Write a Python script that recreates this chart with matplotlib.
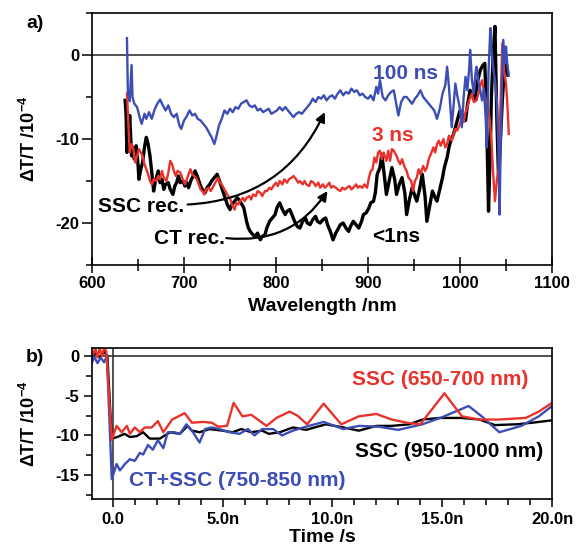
import matplotlib
matplotlib.use('Agg')
import matplotlib.pyplot as plt
from matplotlib.ticker import MultipleLocator

plt.rcParams['font.family'] = ['Liberation Sans', 'DejaVu Sans']
plt.rcParams['mathtext.fontset'] = 'custom'
plt.rcParams['mathtext.rm'] = 'Liberation Sans:bold'
plt.rcParams['mathtext.it'] = 'Liberation Sans:bold'
plt.rcParams['mathtext.bf'] = 'Liberation Sans:bold'
plt.rcParams['axes.unicode_minus'] = False

# ---- panel a) spectra, dT/T in 1e-4 ----
wl_blue = [638, 639, 641, 643, 644, 646, 649, 652, 654, 657,
           659, 662, 665, 668, 671, 674, 677, 680, 683, 686,
           689, 692, 695, 697, 700, 703, 706, 709, 712, 715,
           718, 721, 724, 727, 730, 733, 735, 738, 741, 744,
           747, 750, 753, 756, 759, 762, 765, 768, 771, 774,
           777, 780, 783, 786, 789, 792, 795, 798, 801, 804,
           807, 810, 813, 816, 819, 822, 825, 828, 831, 834,
           837, 840, 843, 846, 849, 852, 855, 858, 861, 864,
           867, 870, 873, 876, 879, 882, 885, 888, 891, 894,
           897, 900, 903, 906, 909, 911, 913, 916, 919, 922,
           925, 928, 931, 933, 936, 939, 942, 945, 948, 951,
           954, 957, 960, 963, 966, 969, 972, 975, 978, 981,
           984, 986, 988, 991, 993, 995, 997, 1000, 1002, 1004,
           1006, 1008, 1010, 1011, 1013, 1015, 1017, 1018, 1020, 1022,
           1024, 1026, 1028, 1029, 1031, 1033, 1034, 1036, 1038, 1040,
           1042, 1043, 1044, 1046, 1047, 1049, 1050, 1051, 1052, 1053]
dt_blue = [2.0, -4.5, -5.5, -1.2, -5.0, -5.8, -6.2, -7.5, -8.2, -7.0,
           -7.6, -6.8, -7.6, -6.5, -5.8, -5.3, -6.0, -6.6, -6.0, -7.0,
           -7.4, -7.0, -8.4, -8.8, -7.8, -7.3, -6.6, -7.2, -7.0, -7.6,
           -7.8, -8.2, -8.6, -9.2, -9.8, -10.6, -9.8, -8.4, -7.6, -6.6,
           -7.0, -6.4, -6.8, -6.2, -6.4, -5.8, -5.6, -5.4, -6.0, -6.2,
           -6.0, -6.6, -6.4, -6.8, -6.6, -6.4, -7.0, -6.8, -6.6, -6.2,
           -6.6, -6.2, -6.6, -7.0, -7.4, -7.0, -6.8, -7.0, -6.6, -6.2,
           -5.8, -5.2, -5.6, -5.0, -5.2, -4.8, -5.4, -5.0, -4.8, -5.2,
           -4.6, -4.2, -4.8, -4.4, -4.6, -4.0, -4.4, -4.2, -4.8, -4.6,
           -5.0, -5.2, -4.8, -5.4, -3.8, -4.6, -3.0, -5.0, -5.4, -4.8,
           -4.4, -4.2, -6.0, -7.2, -5.6, -5.0, -5.0, -5.4, -5.8, -5.2,
           -4.8, -4.2, -5.0, -5.4, -5.8, -6.2, -6.6, -7.6, -6.4, -4.6,
           -3.6, -1.4, -3.8, -8.6, -6.0, -3.4, -4.8, -6.4, -8.6, -5.0,
           -2.6, -4.2, -1.6, 0.6, -3.0, -4.6, -2.0, -1.4, -3.2, -4.2,
           -5.4, -4.0, -7.6, -11.0, -2.0, 3.2, 1.0, -1.4, -3.0, -5.4,
           -12.0, -19.0, -12.0, -2.0, 1.8, -1.0, 1.0, -0.6, -1.6, -2.4]

wl_red = [638, 639, 641, 643, 645, 647, 649, 651, 653, 655,
          657, 659, 661, 663, 665, 667, 670, 672, 674, 676,
          678, 681, 683, 685, 687, 689, 691, 693, 696, 698,
          701, 703, 705, 707, 709, 711, 714, 716, 718, 720,
          722, 724, 727, 729, 732, 734, 737, 739, 741, 743,
          745, 748, 750, 752, 755, 757, 759, 761, 764, 766,
          768, 771, 773, 775, 778, 780, 783, 785, 788, 790,
          793, 795, 797, 800, 802, 804, 807, 809, 812, 814,
          817, 819, 822, 824, 826, 829, 831, 833, 836, 838,
          841, 843, 846, 848, 851, 853, 855, 858, 860, 862,
          865, 867, 870, 872, 875, 877, 880, 882, 884, 887,
          889, 891, 894, 896, 899, 901, 903, 905, 907, 909,
          911, 913, 915, 917, 920, 922, 924, 926, 928, 931,
          933, 935, 937, 940, 942, 944, 947, 949, 951, 953,
          955, 957, 960, 962, 964, 966, 969, 971, 973, 975,
          977, 979, 982, 984, 986, 988, 991, 993, 995, 997,
          1000, 1002, 1004, 1006, 1008, 1010, 1013, 1015, 1018, 1020,
          1022, 1024, 1026, 1028, 1030, 1032, 1034, 1036, 1038, 1040,
          1042, 1044, 1046, 1048, 1050, 1051, 1052, 1053]
dt_red = [-4.6, -7.0, -11.6, -10.6, -11.2, -12.8, -12.0, -11.2, -11.6, -12.0,
          -13.0, -13.6, -14.2, -15.0, -15.4, -14.8, -15.0, -14.4, -14.8, -13.8,
          -14.6, -15.0, -14.0, -12.6, -13.0, -13.8, -14.4, -13.8, -14.0, -14.6,
          -15.4, -14.8, -14.2, -13.6, -14.2, -14.4, -14.8, -15.4, -16.0, -16.2,
          -16.6, -16.0, -15.8, -16.2, -15.6, -15.2, -14.6, -15.2, -15.4, -15.8,
          -16.2, -16.8, -17.0, -17.8, -18.4, -17.6, -17.8, -17.4, -17.0, -17.4,
          -17.0, -16.8, -17.2, -16.6, -16.8, -16.2, -16.4, -16.8, -16.2, -16.2,
          -15.8, -16.0, -15.6, -15.2, -15.6, -15.0, -15.4, -14.8, -15.2, -14.8,
          -14.6, -14.4, -14.8, -15.2, -15.0, -15.4, -15.0, -15.4, -15.6, -15.0,
          -15.2, -15.6, -15.2, -15.8, -15.4, -15.8, -15.6, -15.2, -15.8, -15.6,
          -15.8, -16.0, -16.2, -15.8, -16.0, -15.8, -15.6, -16.0, -15.8, -15.4,
          -15.8, -15.6, -15.8, -15.4, -15.8, -14.6, -13.8, -13.6, -12.2, -12.8,
          -11.6, -11.4, -12.4, -11.6, -12.6, -11.4, -12.6, -11.2, -11.4, -12.0,
          -12.6, -13.0, -12.4, -13.4, -13.8, -14.6, -15.0, -16.2, -15.0, -14.6,
          -13.6, -14.2, -13.2, -13.8, -13.4, -12.4, -11.6, -11.0, -11.6, -10.6,
          -10.2, -10.8, -10.0, -11.0, -10.6, -9.6, -10.2, -9.4, -8.8, -9.0,
          -8.2, -7.4, -8.0, -6.8, -6.2, -5.4, -4.6, -5.6, -5.4, -4.6,
          -3.6, -3.0, -4.4, -5.4, -6.0, -7.4, -10.0, -14.0, -17.4, -15.0,
          -13.4, -6.0, 1.4, -2.0, -3.4, -5.0, -7.0, -9.4]

wl_black = [636, 637, 638, 640, 641, 643, 645, 646, 648, 650,
            651, 653, 655, 657, 659, 661, 663, 665, 667, 669,
            672, 674, 676, 678, 680, 683, 685, 688, 690, 692,
            694, 696, 699, 701, 703, 705, 708, 710, 712, 715,
            718, 720, 723, 725, 728, 730, 733, 736, 738, 741,
            744, 747, 750, 752, 755, 758, 761, 763, 765, 768,
            770, 772, 775, 777, 780, 783, 785, 788, 790, 793,
            796, 799, 801, 804, 807, 810, 812, 815, 818, 821,
            823, 826, 829, 832, 834, 837, 840, 843, 845, 848,
            851, 854, 856, 859, 862, 865, 868, 870, 873, 876,
            879, 881, 884, 887, 890, 893, 895, 898, 901, 903,
            906, 908, 910, 913, 915, 918, 920, 923, 926, 929,
            931, 934, 937, 940, 942, 945, 948, 951, 953, 956,
            959, 962, 964, 967, 970, 973, 975, 978, 981, 983,
            986, 988, 990, 993, 995, 998, 1000, 1003, 1006, 1008,
            1011, 1013, 1016, 1019, 1022, 1025, 1027, 1029, 1031, 1033,
            1034, 1036, 1038, 1040, 1042, 1044, 1046, 1048, 1050, 1052]
dt_black = [-5.4, -7.0, -11.6, -9.0, -7.2, -12.0, -11.0, -12.4, -10.8, -13.0,
            -14.8, -13.6, -12.8, -11.0, -9.8, -10.6, -12.0, -14.0, -16.2, -15.0,
            -13.8, -15.2, -14.8, -16.0, -15.4, -15.2, -16.0, -16.6, -15.6, -15.2,
            -14.4, -15.2, -15.0, -15.6, -15.2, -15.8, -14.8, -14.4, -13.8, -14.6,
            -15.6, -16.0, -16.4, -15.8, -15.4, -15.0, -14.6, -14.2, -14.8, -15.8,
            -16.8, -17.8, -18.4, -17.8, -17.4, -17.0, -17.4, -17.8, -18.2, -19.8,
            -20.6, -21.0, -21.4, -21.6, -21.2, -22.0, -21.6, -21.4, -20.6, -19.8,
            -19.4, -19.0, -18.2, -17.6, -18.4, -19.0, -18.6, -18.4, -19.2, -20.0,
            -20.4, -20.6, -19.8, -19.4, -20.0, -20.2, -19.6, -19.2, -19.8, -20.0,
            -19.6, -19.4, -20.2, -21.0, -22.0, -21.2, -20.6, -20.2, -20.0, -20.6,
            -21.0, -20.4, -19.8, -20.2, -20.6, -19.8, -19.0, -18.8, -18.2, -17.6,
            -17.4, -16.4, -14.2, -13.4, -11.8, -14.6, -16.6, -15.0, -13.4, -14.8,
            -16.6, -15.4, -14.6, -16.4, -19.0, -17.2, -15.8, -16.8, -17.4, -16.0,
            -14.2, -16.8, -19.8, -18.0, -16.2, -17.0, -17.4, -16.0, -14.6, -13.4,
            -12.2, -11.0, -10.2, -9.4, -8.6, -7.4, -6.6, -7.2, -7.8, -6.0,
            -4.2, -4.8, -5.4, -3.2, -1.8, -1.2, -1.0, -8.0, -18.6, -11.0,
            -5.4, 0.0, 3.4, -7.4, -15.0, -10.0, -5.4, -2.0, -0.8, -2.4]

# ---- panel b) kinetics, time in ns ----
t_red = [-0.9, -0.8, -0.7, -0.6, -0.5, -0.4, -0.3, -0.05, 0.17, 0.4,
         0.64, 0.78, 1.0, 1.23, 1.45, 1.77, 2.05, 2.3, 2.7, 3.27,
         3.6, 4.1, 4.5, 4.8, 5.2, 5.5, 5.9, 6.3, 6.6, 7.0,
         7.45, 8.05, 8.4, 8.85, 9.6, 10.4, 11.2, 12.0, 12.7, 13.4,
         14.0, 15.1, 15.9, 16.7, 17.6, 18.8, 19.4, 20.0]
k_red = [0.2, 1.0, -0.2, 1.0, 0.0, 1.0, 0.6, -10.6, -8.8, -9.6,
         -8.8, -9.8, -9.0, -9.6, -9.0, -9.0, -8.2, -9.6, -8.0, -7.2,
         -8.4, -8.3, -8.4, -8.9, -8.8, -5.9, -7.6, -7.4, -8.0, -8.8,
         -7.8, -7.0, -7.5, -8.6, -6.0, -8.6, -7.6, -7.3, -8.0, -8.4,
         -8.6, -4.7, -7.6, -8.0, -8.0, -7.8, -7.0, -5.9]

t_black = [-0.95, -0.8, -0.6, -0.4, -0.25, -0.05, 0.2, 0.53, 0.77, 1.08,
           1.38, 1.68, 2.14, 2.6, 3.05, 3.4, 3.6, 3.95, 4.4, 5.0,
           5.45, 5.85, 6.3, 6.8, 7.1, 7.6, 8.2, 8.8, 9.7, 10.5,
           11.2, 12.0, 12.7, 13.5, 14.1, 14.9, 15.9, 16.7, 17.4, 18.4,
           19.1, 20.0]
k_black = [-0.3, 0.4, -0.2, 0.5, 0.0, -10.4, -10.2, -9.8, -10.2, -10.1,
           -9.6, -10.4, -10.4, -9.6, -9.8, -8.8, -9.4, -9.6, -9.2, -9.4,
           -9.6, -9.2, -9.6, -9.4, -9.8, -9.6, -9.0, -9.3, -8.6, -9.0,
           -9.4, -8.8, -8.8, -8.6, -8.0, -7.8, -7.8, -8.0, -8.7, -8.6,
           -8.4, -8.1]

t_blue = [-0.95, -0.85, -0.7, -0.55, -0.4, -0.27, -0.05, 0.17, 0.32, 0.55,
          0.77, 1.0, 1.23, 1.38, 1.6, 1.82, 2.05, 2.3, 2.5, 2.8,
          3.05, 3.35, 3.65, 3.95, 4.2, 4.5, 4.86, 5.3, 5.77, 6.15,
          6.45, 6.8, 7.3, 7.7, 8.2, 8.8, 9.6, 10.5, 11.2, 12.1,
          13.0, 14.1, 15.0, 16.2, 16.8, 17.6, 18.6, 19.4, 20.0]
k_blue = [-0.8, -0.1, -0.9, -0.2, -0.8, 0.0, -15.5, -13.6, -14.4, -13.6,
          -13.0, -13.2, -12.2, -12.4, -11.2, -11.8, -10.6, -11.6, -9.6, -9.6,
          -9.8, -8.6, -9.6, -10.9, -9.2, -9.0, -9.2, -9.6, -9.8, -9.2,
          -10.0, -9.2, -9.2, -10.0, -9.4, -8.9, -8.3, -9.2, -8.8, -8.9,
          -9.3, -8.6, -7.7, -6.3, -7.6, -9.6, -8.8, -7.6, -6.3]

time_ticks = [0, 5, 10, 15, 20]
time_labels = ['0.0', '5.0n', '10.0n', '15.0n', '20.0n']

BLUE = '#3c4db5'
RED = '#e8322b'
ylab = r'ΔT/T /10$^{-4}$'

fig = plt.figure(figsize=(5.77, 5.52), dpi=100)
ax = fig.add_axes([92/577, 1 - 265/552, 460/577, 252/552])
ax2 = fig.add_axes([92/577, 1 - 499/552, 460/577, 151/552])

# top panel
ax.axhline(0, color='#222222', lw=1.1, zorder=1)
ax.plot(wl_black, dt_black, color='k', lw=2.4)
ax.plot(wl_red, dt_red, color=RED, lw=1.7)
ax.plot(wl_blue, dt_blue, color=BLUE, lw=1.7)
ax.set_xlim(600, 1100)
ax.set_ylim(-25, 5)
ax.set_xticks([600, 700, 800, 900, 1000, 1100])
ax.set_yticks([-20, -10, 0])
ax.xaxis.set_minor_locator(MultipleLocator(50))
ax.yaxis.set_minor_locator(MultipleLocator(5))
ax.tick_params(axis='x', which='major', direction='inout', length=12, width=1.1, labelsize=12, pad=2)
ax.tick_params(axis='x', which='minor', direction='inout', length=8, width=1.1)
ax.tick_params(axis='y', which='major', direction='out', length=7, width=1.1, labelsize=12, pad=2)
ax.tick_params(axis='y', which='minor', direction='out', length=4.5, width=1.1)
ax.set_xlabel('Wavelength /nm', fontsize=14, fontweight='bold')
ax.xaxis.set_label_coords(0.5, -0.13)
ax.set_ylabel(ylab, fontsize=13, fontweight='bold')
ax.yaxis.set_label_coords(-0.115, 0.5)

txt = dict(fontsize=15, fontweight='bold', ha='center', va='center')
ax.text(941, -2.2, '100 ns', color=BLUE, **txt)
ax.text(927, -9.6, '3 ns', color=RED, **txt)
ax.text(931, -21.6, '<1ns', color='k', **txt)
ax.text(653, -18.0, 'SSC rec.', color='k', **txt)
ax.text(706, -21.8, 'CT rec.', color='k', **txt)
ax.annotate('', xy=(853, -6.8), xytext=(704, -17.8),
            arrowprops=dict(arrowstyle='-|>', color='k', lw=1.6, mutation_scale=14,
                            connectionstyle='arc3,rad=0.3', shrinkA=0, shrinkB=0))
ax.annotate('', xy=(856, -16.2), xytext=(746, -21.8),
            arrowprops=dict(arrowstyle='-|>', color='k', lw=1.6, mutation_scale=14,
                            connectionstyle='arc3,rad=0.3', shrinkA=0, shrinkB=0))

# bottom panel
ax2.axhline(0, color='#222222', lw=1.1, zorder=1)
ax2.axvline(0, color='#222222', lw=1.1, zorder=1)
ax2.plot(t_black, k_black, color='k', lw=1.7)
ax2.plot(t_blue, k_blue, color=BLUE, lw=1.7)
ax2.plot(t_red, k_red, color=RED, lw=1.7)
ax2.set_xlim(-0.95, 20)
ax2.set_ylim(-18, 1)
ax2.set_xticks(time_ticks, time_labels)
ax2.set_yticks([-15, -10, -5, 0])
ax2.xaxis.set_minor_locator(MultipleLocator(1))
ax2.yaxis.set_minor_locator(MultipleLocator(2.5))
ax2.tick_params(axis='both', which='major', direction='out', length=6, width=1.1, labelsize=12, pad=3)
ax2.tick_params(axis='both', which='minor', direction='out', length=4, width=1.1)
ax2.set_xlabel('Time /s', fontsize=14, fontweight='bold')
ax2.xaxis.set_label_coords(0.5, -0.2)
ax2.set_ylabel(ylab, fontsize=13, fontweight='bold')
ax2.yaxis.set_label_coords(-0.115, 0.5)

ax2.text(14.9, -3.0, 'SSC (650-700 nm)', color=RED, **txt)
ax2.text(15.3, -12.0, 'SSC (950-1000 nm)', color='k', **txt)
ax2.text(5.65, -15.7, 'CT+SSC (750-850 nm)', color=BLUE, **txt)

for a in (ax, ax2):
    for s in a.spines.values():
        s.set_linewidth(1.2)
    for lab in a.get_xticklabels() + a.get_yticklabels():
        lab.set_fontweight('bold')

fig.text(35/577, 1 - 23/552, 'a)', fontsize=14, fontweight='bold', ha='center', va='center')
fig.text(35/577, 1 - 358/552, 'b)', fontsize=14, fontweight='bold', ha='center', va='center')

fig.savefig('out.png', dpi=100)
